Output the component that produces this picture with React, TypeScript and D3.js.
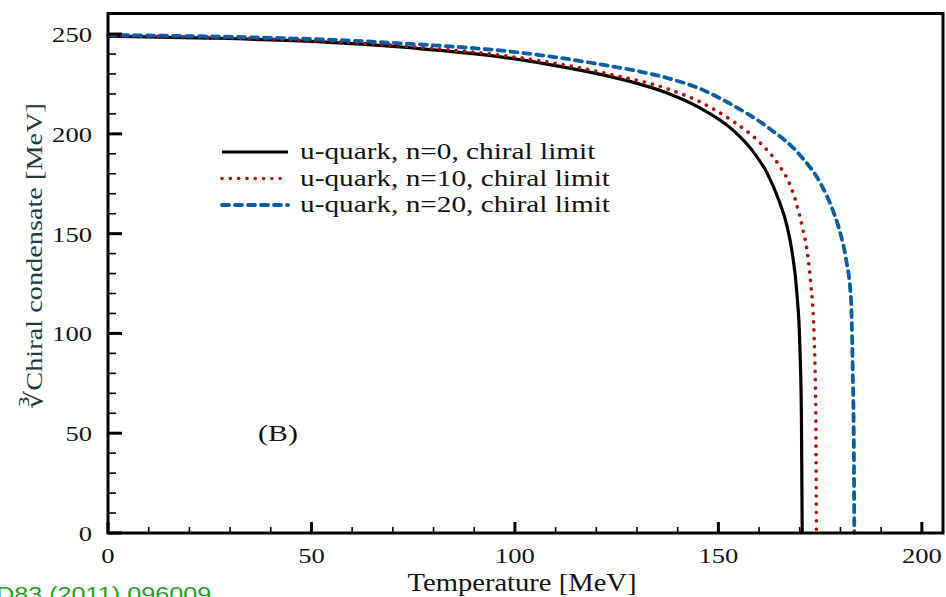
import React from "react";
import * as d3 from "d3";

// temperature [MeV] and cube-root condensate [MeV]
const tempN0 = [0, 25, 50, 75, 96.4, 110, 121, 130, 137.4, 145, 153.8, 158, 162, 165, 166.9, 168.1, 169.3, 170.0, 170.4, 170.6];
const condN0 = [249, 248, 246.3, 243, 238.6, 234.2, 229.8, 225.3, 220.5, 213.5, 201.5, 192.5, 180.2, 166, 153.5, 141, 120, 95, 60, 0];

const tempN10 = [0, 25, 50, 75, 98, 112, 123, 137.4, 145, 153.8, 160, 165, 167.7, 170.6, 172, 172.7, 173.5, 173.9, 174.1];
const condN10 = [249.2, 248.3, 246.7, 243.6, 239, 234.6, 230, 222.6, 216.5, 206, 196, 184, 174, 153.5, 138.5, 125, 100, 66, 0];

const tempN20 = [0, 25, 50, 75, 100, 112, 121, 130, 137.4, 145.6, 153.8, 162, 170.2, 175.1, 178.4, 180, 181.3, 182.6, 183, 183.3, 183.4];
const condN20 = [249.5, 248.8, 247.5, 245, 241, 237.8, 234.8, 231.5, 228, 222.5, 214, 203.5, 189, 175.2, 160.2, 150, 138, 116.7, 83, 40, 0];

const seriesNames = ["u-quark, n=0, chiral limit", "u-quark, n=10, chiral limit", "u-quark, n=20, chiral limit"];
const xTicks = [0, 50, 100, 150, 200];
const yTicks = [0, 50, 100, 150, 200, 250];

const W = 946;
const H = 597;

export default function App() {
  const x = d3.scaleLinear().domain([0, 205.2]).range([108, 943]);
  const y = d3.scaleLinear().domain([0, 260.3]).range([533, 13.5]);

  const line = d3
    .line<[number, number]>()
    .x((d) => x(d[0]))
    .y((d) => y(d[1]))
    .curve(d3.curveMonotoneX);

  const series = [
    { t: tempN0, v: condN0, color: "#000", width: 3.2, dash: "none", cap: "butt" },
    { t: tempN10, v: condN10, color: "#b00d0d", width: 3.6, dash: "0.1 8.2", cap: "round" },
    { t: tempN20, v: condN20, color: "#0b5ca6", width: 3.8, dash: "7 6", cap: "round" },
  ];

  const xMinor = d3.range(0, 206, 10).filter((v) => v % 50 !== 0);
  const yMinor = d3.range(0, 261, 10).filter((v) => v % 50 !== 0);

  const serif = "'Liberation Serif', 'Times New Roman', serif";

  return (
    <svg width={W} height={H} style={{ position: "absolute", left: 0, top: 0, background: "#fff" }}>
      {/* curves */}
      {series.map((s, i) => (
        <path
          key={i}
          d={line(s.t.map((t, j) => [t, s.v[j]] as [number, number])) || ""}
          fill="none"
          stroke={s.color}
          strokeWidth={s.width}
          strokeDasharray={s.dash}
          strokeLinecap={s.cap as any}
        />
      ))}

      {/* frame */}
      <rect x={108} y={13.5} width={835} height={519.5} fill="none" stroke="#000" strokeWidth={3} />

      {/* ticks */}
      {xTicks.map((t) => (
        <line key={"xt" + t} x1={x(t)} x2={x(t)} y1={533} y2={522} stroke="#000" strokeWidth={3} />
      ))}
      {xMinor.map((t) => (
        <line key={"xm" + t} x1={x(t)} x2={x(t)} y1={533} y2={527} stroke="#000" strokeWidth={1.6} />
      ))}
      {yTicks.map((t) => (
        <line key={"yt" + t} x1={108} x2={122} y1={y(t)} y2={y(t)} stroke="#000" strokeWidth={3} />
      ))}
      {yMinor.map((t) => (
        <line key={"ym" + t} x1={108} x2={116} y1={y(t)} y2={y(t)} stroke="#000" strokeWidth={1.6} />
      ))}

      {/* tick labels */}
      {xTicks.map((t) => (
        <text
          key={"xl" + t}
          transform={`translate(${x(t)},563) scale(1.21,1)`}
          textAnchor="middle"
          fontFamily={serif}
          fontSize={22}
          fill="#111"
        >
          {t}
        </text>
      ))}
      {yTicks.map((t) => (
        <text
          key={"yl" + t}
          transform={`translate(92,${y(t) + 8}) scale(1.21,1)`}
          textAnchor="end"
          fontFamily={serif}
          fontSize={22}
          fill="#111"
        >
          {t}
        </text>
      ))}

      {/* axis titles */}
      <text
        transform="translate(522,591) scale(1.1,1)"
        textAnchor="middle"
        fontFamily={serif}
        fontSize={26}
        fill="#111"
      >
        Temperature [MeV]
      </text>
      <text
        transform="translate(42,256) rotate(-90) scale(1.18,1)"
        textAnchor="middle"
        fontFamily={serif}
        fontSize={24}
        fill="#1f3b37"
      >
        ∛Chiral condensate [MeV]
      </text>

      {/* panel label */}
      <text transform="translate(258,441) scale(1.3,1)" fontFamily={serif} fontSize={23} fill="#111">
        (B)
      </text>

      {/* legend */}
      {series.map((s, i) => (
        <g key={"lg" + i}>
          <line
            x1={222}
            x2={288}
            y1={152 + i * 26.5}
            y2={152 + i * 26.5}
            stroke={s.color}
            strokeWidth={s.width}
            strokeDasharray={s.dash}
            strokeLinecap={s.cap as any}
          />
          <text
            transform={`translate(300,${159 + i * 26.5}) scale(1.22,1)`}
            fontFamily={serif}
            fontSize={24}
            fill="#111"
          >
            {seriesNames[i]}
          </text>
        </g>
      ))}

      {/* citation fragment */}
      <text
        transform="translate(-4,601) scale(1.2,1)"
        fontFamily="'Liberation Sans', Arial, sans-serif"
        fontSize={21}
        fill="#23a023"
      >
        D83 (2011) 096009
      </text>
    </svg>
  );
}
